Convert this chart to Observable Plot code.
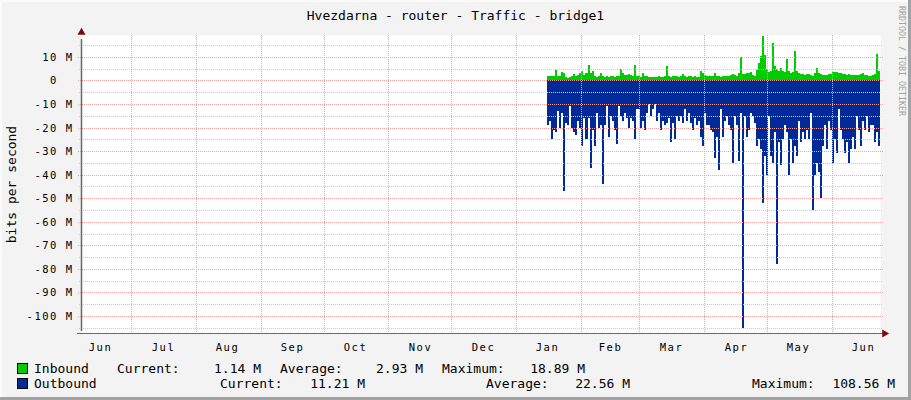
<!DOCTYPE html>
<html>
<head>
<meta charset="utf-8">
<script src="https://cdn.jsdelivr.net/npm/d3@7"></script>
<script src="https://cdn.jsdelivr.net/npm/@observablehq/plot@0.6"></script>
<style>
  html, body { margin: 0; padding: 0; background: #f2f2f2; }
  #wrap { position: relative; width: 911px; height: 400px; background: #f3f3f3; overflow: hidden;
          font-family: "DejaVu Sans Mono", monospace; color: #000; }
  #wrap .edge { position: absolute; }
  #wrap .t { position: absolute; font-size: 13px; line-height: 13px; white-space: pre; }
  #wrap svg { position: absolute; left: 0; top: 0; }
  #wrap svg [aria-label$="tick label"] text { letter-spacing: 1.5px; }
</style>
</head>
<body>
<div id="wrap"></div>
<script>
// ---------------- data (values in Mbit/s) ----------------
const chartTitle = "Hvezdarna - router - Traffic - bridge1";
const yLabel = "bits per second";
const credit = "RRDTOOL / TOBI OETIKER";

const xDomain = ["2009-06-07", "2010-06-24"];
const yDomain = [-107.2, 19.3];
const yMajorTicks = [10, 0, -10, -20, -30, -40, -50, -60, -70, -80, -90, -100];
const yMinorTicks = [15, 5, -5, -15, -25, -35, -45, -55, -65, -75, -85, -95, -105];
const monthStarts = ["2009-07-01","2009-08-01","2009-09-01","2009-10-01","2009-11-01","2009-12-01",
                     "2010-01-01","2010-02-01","2010-03-01","2010-04-01","2010-05-01","2010-06-01"];
const monthLabelDates = ["2009-06-16","2009-07-16","2009-08-16","2009-09-16","2009-10-16","2009-11-16","2009-12-16",
                         "2010-01-16","2010-02-15","2010-03-16","2010-04-16","2010-05-16","2010-06-16"];

const dataStart = "2010-01-16";
const dataEnd = "2010-06-24";

const inbound = [
  1.7,1.8,1.8,1.9,4.5,2.0,1.7,3.6,3.0,1.4,1.2,1.6,1.9,2.6,1.7,2.5,3.2,4.0,2.2,3.0,6.5,3.2,4.0,1.7,1.6,1.7,3.0,1.8,1.6,1.7,1.6,1.8,1.7,1.6,1.7,1.8,5.0,3.0,2.2,2.5,2.6,2.4,
  2.0,6.6,2.0,1.7,1.6,3.0,1.8,1.7,1.6,1.5,1.6,1.4,1.6,1.7,1.6,1.6,1.8,6.0,1.8,1.6,1.7,1.9,1.7,1.6,1.8,2.8,1.7,1.6,1.8,1.7,1.6,1.7,1.5,1.6,4.0,3.2,2.2,1.8,1.7,1.9,2.0,3.0,
  1.8,1.7,1.6,1.9,2.0,1.7,1.8,2.3,2.6,2.4,2.0,3.0,10.0,2.6,2.8,3.2,3.0,3.8,2.2,2.0,4.5,7.3,10.5,18.9,11.0,5.0,3.8,4.2,16.0,6.0,5.0,4.0,5.2,4.2,3.6,9.0,4.0,3.2,3.6,12.7,4.0,3.2,2.6,
  2.6,2.4,2.6,2.8,2.2,2.0,3.0,5.5,3.2,2.6,2.4,2.2,2.4,2.6,2.8,3.4,3.8,3.6,3.2,3.0,2.6,2.8,2.4,2.6,2.2,2.4,2.2,2.3,2.4,2.8,3.0,2.4,2.2,2.0,1.8,2.2,2.6,11.3,4.0,1.2
];
const outbound = [
  19,17,25,21,22,13,20,14,47,18,19,11,20,22,23,17,20,28,16,25,16,37,21,28,14,20,19,44,19,11,24,15,17,21,27,11,15,17,14,16,20,16,
  17,25,12,12,20,17,21,14,10,15,12,10,17,14,21,17,19,18,16,26,18,25,15,17,15,18,12,17,14,18,21,16,19,17,24,28,14,19,19,21,22,33,
  24,38,12,24,17,15,19,21,35,15,19,34,14,105,15,24,21,14,15,18,28,25,29,52,32,40,15,32,35,22,78,26,36,25,19,22,40,25,35,28,32,17,26,
  22,25,21,25,14,55,40,35,39,50,28,19,29,17,21,35,25,31,12,21,25,31,26,35,29,24,29,15,21,28,17,21,15,22,19,19,26,22,28,11
];

const legendNames = ["Inbound", "Outbound"];
const legendColors = ["#00cc00", "#002a97"];
const legendCurrent = [1.14, 11.21];
const legendAverage = [2.93, 22.56];
const legendMaximum = [18.89, 108.56];

// ---------------- build ----------------
const parse = d3.utcParse("%Y-%m-%d");
const t0 = parse(dataStart).getTime(), t1 = parse(dataEnd).getTime();
const n = inbound.length;
const rows = inbound.map((v, i) => ({
  date: new Date(t0 + (t1 - t0) * i / (n - 1)),
  inbound: v,
  outbound: outbound[i]
}));

const xd = xDomain.map(parse);
const majorColor = "#f4a0a0";
const minorColor = "#cccccc";
const axisColor = "#6a6a6a";
const arrowColor = "#7a0c0c";

const chart = Plot.plot({
  width: 911,
  height: 400,
  marginTop: 35,
  marginLeft: 81,
  marginRight: 31,
  marginBottom: 67,
  style: { fontFamily: "DejaVu Sans Mono", fontSize: "10.5px", background: "transparent", color: "#000", overflow: "visible" },
  x: { type: "utc", domain: xd, round: true },
  y: { domain: yDomain, round: true },
  marks: [
    Plot.frame({ fill: "white", stroke: "none" }),
    Plot.areaY(rows, { x: "date", y: "inbound", fill: legendColors[0], curve: "step-after" }),
    Plot.areaY(rows, { x: "date", y: d => -d.outbound, fill: legendColors[1], curve: "step-after" }),
    Plot.ruleY(yMinorTicks, { stroke: minorColor, strokeDasharray: "1,1", insetLeft: -2, insetRight: -3 }),
    Plot.ruleY(yMajorTicks, { stroke: majorColor, strokeDasharray: "1,1", insetLeft: -3, insetRight: -3 }),
    Plot.ruleX(monthStarts.map(parse), { stroke: majorColor, strokeDasharray: "1,1" }),
    Plot.ruleX([xd[0]], { y1: yDomain[0], y2: yDomain[1], stroke: axisColor, strokeWidth: 1.5, insetTop: -2, insetBottom: -4 }),
    Plot.ruleY([yDomain[0]], { x1: xd[0], x2: xd[1], stroke: axisColor, insetLeft: -4, insetRight: -3 }),
    Plot.dot([xd[0]], { x: d => d, y: () => yDomain[1], dy: -3, symbol: "triangle", r: 3, fill: arrowColor, stroke: "none" }),
    Plot.dot([xd[1]], { x: d => d, y: () => yDomain[0], dx: 4, rotate: 90, symbol: "triangle", r: 3, fill: arrowColor, stroke: "none" }),
    Plot.axisY(yMajorTicks, {
      tickFormat: d => d === 0 ? "0\u00a0\u00a0" : `${d} M`,
      tickSize: 0, tickPadding: 8, fill: "#000", fontSize: 10.5, label: null
    }),
    Plot.axisX(monthLabelDates.map(parse), {
      tickFormat: d3.utcFormat("%b"), tickSize: 0, tickPadding: 10, fill: "#000", fontSize: 10.5, label: null
    }),
    Plot.text([yLabel], { frameAnchor: "left", dx: -70, rotate: -90, textAnchor: "middle", fontSize: 13, fill: "#000" })
  ]
});

const wrap = document.getElementById("wrap");
wrap.appendChild(chart);

function addText(str, left, top, opts = {}) {
  const el = document.createElement("div");
  el.className = "t";
  el.textContent = str;
  if (opts.right != null) {
    el.style.left = (opts.right - 300) + "px";
    el.style.width = "300px";
    el.style.textAlign = "right";
  } else {
    el.style.left = left + "px";
  }
  el.style.top = top + "px";
  if (opts.center) { el.style.left = "0px"; el.style.width = "911px"; el.style.textAlign = "center"; }
  wrap.appendChild(el);
  return el;
}

// title
addText(chartTitle, 0, 9, { center: true });

// credit (vertical)
const cr = document.createElement("div");
cr.textContent = credit;
Object.assign(cr.style, {
  position: "absolute", left: "897px", top: "6px", writingMode: "vertical-rl",
  fontSize: "8.3px", lineHeight: "9px", color: "#a0a0a0", whiteSpace: "pre",
  fontFamily: "DejaVu Sans Mono"
});
wrap.appendChild(cr);

// legend
const fmt = v => v.toFixed(2) + " M";
const layout = [
  { top: 362, cur: 117, curV: 261, avg: 280, avgV: 423, max: 442, maxV: 585 },
  { top: 377, cur: 220, curV: 365, avg: 486, avgV: 630, max: 752, maxV: 895 }
];
legendNames.forEach((name, i) => {
  const L = layout[i];
  const sw = document.createElement("div");
  Object.assign(sw.style, {
    position: "absolute", left: "17px", top: (L.top + 1) + "px", width: "9px", height: "9px",
    background: legendColors[i], border: "1px solid #000"
  });
  wrap.appendChild(sw);
  addText(name, 34, L.top);
  addText("Current:", L.cur, L.top);
  addText(fmt(legendCurrent[i]), 0, L.top, { right: L.curV });
  addText("Average:", L.avg, L.top);
  addText(fmt(legendAverage[i]), 0, L.top, { right: L.avgV });
  addText("Maximum:", L.max, L.top);
  addText(fmt(legendMaximum[i]), 0, L.top, { right: L.maxV });
});

// frame edges (3D border like the original)
[["0px","0px","911px","2px","#fbfbfb"],["0px","0px","2px","400px","#fbfbfb"],
 ["908px","0px","3px","400px","#a3a3a3"],["0px","397px","911px","3px","#a3a3a3"]].forEach(([l,t,w,h,c]) => {
  const e = document.createElement("div");
  e.className = "edge";
  Object.assign(e.style, { left: l, top: t, width: w, height: h, background: c });
  wrap.appendChild(e);
});
</script>
</body>
</html>
